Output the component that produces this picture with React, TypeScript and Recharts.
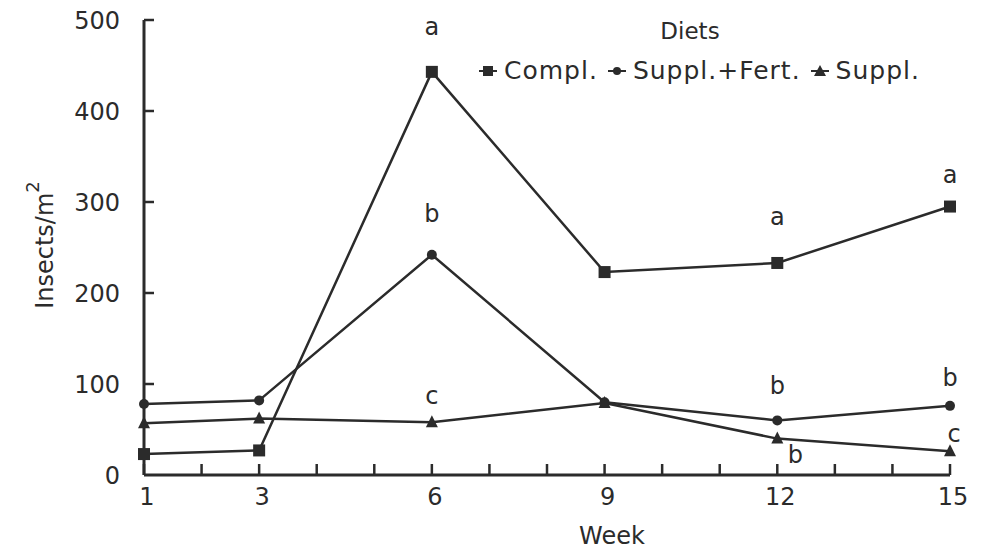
import { LineChart, Line, XAxis, YAxis, LabelList } from "recharts";

const weeks = [1, 3, 6, 9, 12, 15];
const compl = [23, 27, 443, 223, 233, 295];
const supplFert = [78, 82, 242, 80, 60, 76];
const suppl = [57, 62, 58, 79, 40, 26];

const complLetters = ["", "", "a", "", "a", "a"];
const supplFertLetters = ["", "", "b", "", "b", "b"];
const supplLetters = ["", "", "c", "", "b", "c"];

const weekTicks = [1, 2, 3, 4, 5, 6, 7, 8, 9, 10, 11, 12, 13, 14, 15];
const weekLabels = [1, 3, 6, 9, 12, 15];
const yTicks = [0, 100, 200, 300, 400, 500];

const data = weeks.map((w, i) => ({
  week: w,
  compl: compl[i],
  supplFert: supplFert[i],
  suppl: suppl[i],
  complL: complLetters[i],
  supplFertL: supplFertLetters[i],
  supplL: supplLetters[i],
}));

const INK = "#2b2b2b";
const FONT = "'DejaVu Sans', Arial, sans-serif";

// letter offsets (dx, dy from point to baseline), per point
const complOff = [[0, 0], [0, 0], [0, -37], [0, 0], [0, -38], [0, -24]];
const fertOff = [[0, 0], [0, 0], [0, -33], [0, 0], [0, -26], [0, -20]];
const supplOff = [[0, 0], [0, 0], [0, -18], [0, 0], [18, 24], [4, -9]];

const letterContent = (offs: number[][]) => (props: any) => {
  const { x, y, value, index } = props;
  if (!value) return null;
  const [dx, dy] = offs[index] || [0, 0];
  return (
    <text x={x + dx} y={y + dy} textAnchor="middle" fontSize={24} fill={INK} fontFamily={FONT}>
      {value}
    </text>
  );
};

const SquareDot = (props: any) => {
  const { cx, cy } = props;
  return <rect x={cx - 6} y={cy - 6} width={12} height={12} fill={INK} />;
};
const CircleDot = (props: any) => {
  const { cx, cy } = props;
  return <circle cx={cx} cy={cy} r={5} fill={INK} />;
};
const TriDot = (props: any) => {
  const { cx, cy } = props;
  return <polygon points={`${cx},${cy - 7} ${cx - 6},${cy + 5} ${cx + 6},${cy + 5}`} fill={INK} />;
};

const WeekTick = (props: any) => {
  const { x, y, payload } = props;
  const v = payload.value;
  return (
    <g>
      <line x1={x} y1={y} x2={x} y2={y - 11} stroke={INK} strokeWidth={2.5} />
      {weekLabels.includes(v) && (
        <text x={x + 3} y={y + 30} textAnchor="middle" fontSize={24} fill={INK} fontFamily={FONT}>
          {v}
        </text>
      )}
    </g>
  );
};

const ValueTick = (props: any) => {
  const { x, y, payload } = props;
  return (
    <g>
      {payload.value > 0 && (
        <line x1={x} y1={y} x2={x + 10} y2={y} stroke={INK} strokeWidth={2.5} />
      )}
      <text x={x - 24} y={y + 9} textAnchor="end" fontSize={24} fill={INK} fontFamily={FONT}>
        {payload.value}
      </text>
    </g>
  );
};

const LegendBox = () => {
  const item = (marker: any, label: string) => (
    <span style={{ display: "inline-flex", alignItems: "center", marginRight: 9 }}>
      <svg width={20} height={14} style={{ marginRight: 6 }}>
        <line x1={1} y1={7} x2={19} y2={7} stroke={INK} strokeWidth={2} />
        {marker}
      </svg>
      {label}
    </span>
  );
  return (
    <div
      style={{
        position: "absolute",
        left: 478,
        top: 17,
        width: 480,
        fontFamily: FONT,
        fontSize: 25,
        letterSpacing: 1,
        color: INK,
        lineHeight: "28px",
      }}
    >
      <div style={{ textAlign: "center", width: 424, fontSize: 23, letterSpacing: 0 }}>Diets</div>
      <div style={{ marginTop: 11, whiteSpace: "nowrap" }}>
        {item(<rect x={5} y={2} width={10} height={10} fill={INK} />, "Compl.")}
        {item(<circle cx={10} cy={7} r={4} fill={INK} />, "Suppl.+Fert.")}
        {item(<polygon points="10,1 4,12 16,12" fill={INK} />, "Suppl.")}
      </div>
    </div>
  );
};

export default function App() {
  return (
    <div style={{ position: "absolute", left: 0, top: 0, width: 983, height: 552, background: "#fff" }}>
      <LineChart width={983} height={552} data={data} margin={{ top: 20, right: 33, left: 0, bottom: 0 }}>
        <XAxis
          dataKey="week"
          type="number"
          domain={[1, 15]}
          ticks={weekTicks}
          interval={0}
          height={77}
          tickSize={0}
          tickMargin={0}
          tickLine={false}
          axisLine={{ stroke: INK, strokeWidth: 3 }}
          tick={<WeekTick />}
        />
        <YAxis
          type="number"
          domain={[0, 500]}
          ticks={yTicks}
          interval={0}
          width={144}
          tickSize={0}
          tickMargin={0}
          tickLine={false}
          axisLine={{ stroke: INK, strokeWidth: 3 }}
          tick={<ValueTick />}
        />
        <Line
          dataKey="compl"
          name="Compl."
          stroke={INK}
          strokeWidth={2.5}
          dot={<SquareDot />}
          isAnimationActive={false}
        >
          <LabelList dataKey="complL" content={letterContent(complOff)} />
        </Line>
        <Line
          dataKey="supplFert"
          name="Suppl.+Fert."
          stroke={INK}
          strokeWidth={2.5}
          dot={<CircleDot />}
          isAnimationActive={false}
        >
          <LabelList dataKey="supplFertL" content={letterContent(fertOff)} />
        </Line>
        <Line
          dataKey="suppl"
          name="Suppl."
          stroke={INK}
          strokeWidth={2.5}
          dot={<TriDot />}
          isAnimationActive={false}
        >
          <LabelList dataKey="supplL" content={letterContent(supplOff)} />
        </Line>
        <text x={612} y={544} textAnchor="middle" fontSize={24} fill={INK} fontFamily={FONT}>
          Week
        </text>
        <text
          transform="translate(53,245) rotate(-90)"
          textAnchor="middle"
          fontSize={24}
          fill={INK}
          fontFamily={FONT}
        >
          Insects/m
          <tspan dy={-14} fontSize={18}>2</tspan>
        </text>
      </LineChart>
      <LegendBox />
    </div>
  );
}
